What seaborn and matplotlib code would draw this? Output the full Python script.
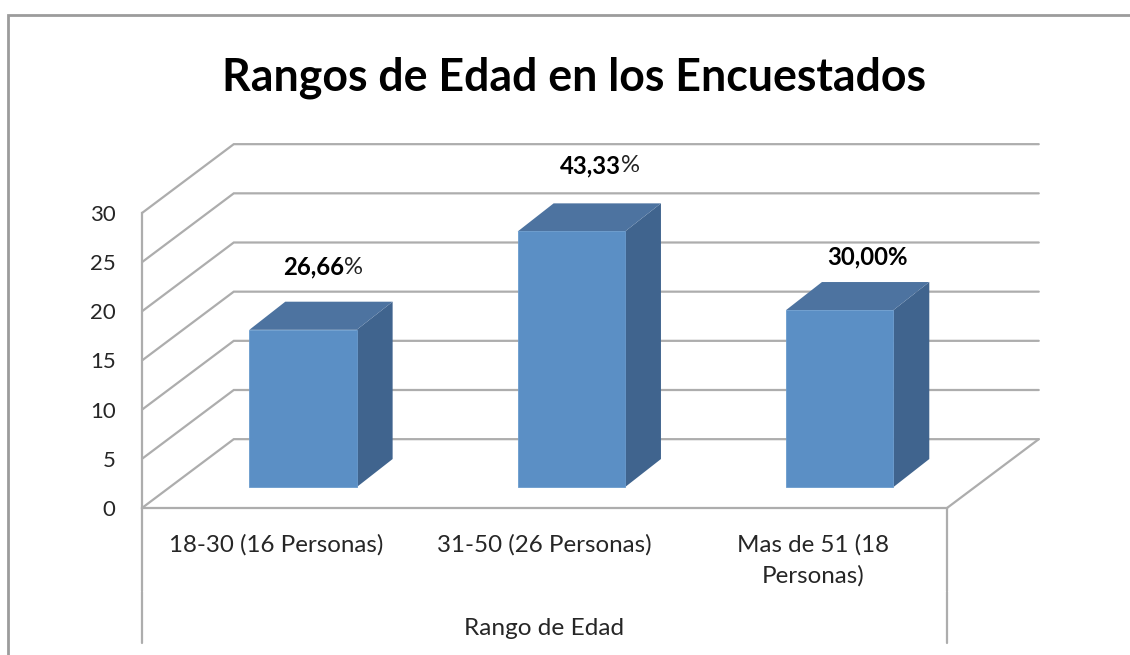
import matplotlib
matplotlib.use("Agg")
import matplotlib.pyplot as plt
from matplotlib.lines import Line2D
import pandas as pd
import seaborn as sns

categories = ["18-30 (16 Personas)", "31-50 (26 Personas)", "Mas de 51 (18\nPersonas)"]
personas = [16, 26, 18]
bold_labels = ["26,66", "43,33", "30,00%"]
plain_labels = ["%", "%", ""]
y_ticks = [0, 5, 10, 15, 20, 25, 30]
axis_name = "Rango de Edad"
title = "Rangos de Edad en los Encuestados"

W, H = 1130, 655
sns.set_theme(style="white")
plt.rcParams["font.family"] = ["Lato", "DejaVu Sans"]

fig = plt.figure(figsize=(W / 100, H / 100), dpi=100, facecolor="white")
ax = fig.add_axes([142 / W, 1 - 508 / H, (947 - 142) / W, (508 - 213) / H])
ax.patch.set_alpha(0)

df = pd.DataFrame({"rango": categories, "personas": personas})
sns.barplot(data=df, x="rango", y="personas", ax=ax, width=0.4, color="#5B8FC5",
            saturation=1, edgecolor="#6A9BCD", linewidth=0.6, zorder=5)
ax.set_xlim(-0.5, 2.5)
ax.set_ylim(0, 30)

GRID = "#ADADAD"
LW = 1.6
TXT = "#262626"
back_x, back_y = 0.342, 7.0    # depth of the chart box, in data units
bar_x, bar_y = 0.100, 2.12     # how far the bar's front stands from the front plane
deep_x, deep_y = 0.134, 2.86   # depth of a bar

for v in y_ticks:
    ax.plot([-0.5, -0.5 + back_x, 2.5 + back_x], [v, v + back_y, v + back_y],
            color=GRID, lw=LW, clip_on=False, zorder=1, solid_joinstyle="miter")
ax.plot([2.5, 2.5 + back_x], [0, back_y], color=GRID, lw=LW, clip_on=False, zorder=1)

for p in ax.patches:
    x0, w, h = p.get_x() + bar_x, p.get_width(), p.get_height()
    p.set_x(x0)
    p.set_y(bar_y)
    y0, y1, x1 = bar_y, bar_y + h, x0 + w
    ax.fill([x1, x1 + deep_x, x1 + deep_x, x1],
            [y0, y0 + deep_y, y1 + deep_y, y1],
            color="#40648E", lw=0, clip_on=False, zorder=4)
    ax.fill([x0, x0 + deep_x, x1 + deep_x, x1],
            [y1, y1 + deep_y, y1 + deep_y, y1],
            color="#4D73A0", lw=0, clip_on=False, zorder=4)

for name in ["top", "right"]:
    ax.spines[name].set_visible(False)
for name in ["left", "bottom"]:
    ax.spines[name].set_color(GRID)
    ax.spines[name].set_linewidth(LW)

ax.set_yticks(y_ticks)
ax.set_yticklabels([str(v) for v in y_ticks], fontsize=16, color=TXT)
ax.set_xticks(range(len(categories)))
ax.set_xticklabels(categories, fontsize=17.4, color=TXT, linespacing=1.55, va="top")
ax.tick_params(axis="x", length=0, pad=18.5)
ax.tick_params(axis="y", length=0, pad=19)
ax.set_xlabel("")
ax.set_ylabel("")

# stems that continue the axis frame below the plot
for x in (-0.5, 2.5):
    ax.plot([x, x], [0, -8.42], color=GRID, lw=LW, clip_on=False, zorder=1)
    ax.plot([x, x], [-8.58, -13.7], color=GRID, lw=LW, clip_on=False, zorder=1)

ax.text(1, -12.3, axis_name, ha="center", va="center", fontsize=17.6, color=TXT)

# data labels
nudges = [(47, 8.5), (55, 8.8), (55, 7.5)]
fig.canvas.draw()
renderer = fig.canvas.get_renderer()
to_data = ax.transData.inverted()
for i, (b, t) in enumerate(zip(bold_labels, plain_labels)):
    dx, dy = nudges[i]
    cx = i + dx / (805 / 3)
    cy = personas[i] + dy
    tb = ax.text(cx, cy, b, ha="left", va="center", fontsize=17.2, weight="bold",
                 color="black", zorder=6)
    tp = ax.text(cx, cy, t, ha="left", va="center", fontsize=17.2, color="#222222", zorder=6)
    wb = tb.get_window_extent(renderer).width
    wp = tp.get_window_extent(renderer).width if t else 0
    cx_px = ax.transData.transform((cx, cy))[0]
    tb.set_x(to_data.transform((cx_px - (wb + wp) / 2, 0))[0])
    tp.set_x(to_data.transform((cx_px - (wb + wp) / 2 + wb, 0))[0])

fig.text(573.5 / W, 1 - 78 / H, title, ha="center", va="center", fontsize=32.1,
         weight="bold", color="black")

# outer chart frame, cut by the image edge
FRAME = "#9C9C9C"
fig.add_artist(Line2D([8 / W, 8 / W, 1], [0, 1 - 15 / H, 1 - 15 / H],
                      color=FRAME, lw=2, transform=fig.transFigure,
                      solid_joinstyle="miter"))

fig.savefig("out.png", dpi=100)
